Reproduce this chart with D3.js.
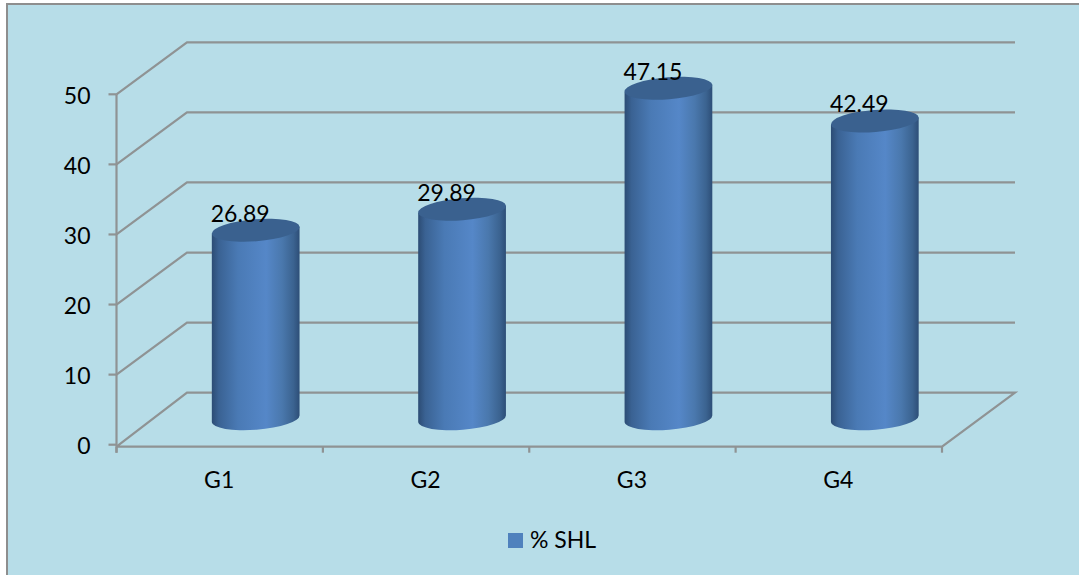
<!DOCTYPE html>
<html>
<head>
<meta charset="utf-8">
<script src="https://cdn.jsdelivr.net/npm/d3@7"></script>
<style>
  html, body { margin: 0; padding: 0; background: #fff; overflow: hidden; }
  svg { display: block; }
  text { font-family: Lato, "Open Sans", sans-serif; fill: #000; }
</style>
</head>
<body>
<svg id="chart" width="1079" height="575"></svg>
<script>
// Percentage of SHL per group
const categories = ["G1", "G2", "G3", "G4"];
const shlValues = [26.89, 29.89, 47.15, 42.49];
const valueLabels = ["26.89", "29.89", "47.15", "42.49"];
const yTickValues = [0, 10, 20, 30, 40, 50];
const seriesName = "% SHL";

const width = 1079, height = 575;
const gridColor = "#8f9394";
const depthX = 70.5, depthY = 52;   // oblique offset from the front plane to the back wall
const fontSize = 23;

const svg = d3.select("#chart");

const x = d3.scaleBand().domain(categories).range([116.5, 942]);
const y = d3.scaleLinear().domain([0, 50]).range([444.7, 94.3]);

const defs = svg.append("defs");
const sideGrad = defs.append("linearGradient").attr("id", "cylinderSide");
[[0, "#2c4c74"], [0.08, "#3a6293"], [0.3, "#4a7ab5"], [0.62, "#5587c8"], [0.8, "#4a78ad"], [0.93, "#3b6390"], [1, "#2d4e77"]]
  .forEach(([o, c]) => sideGrad.append("stop").attr("offset", o).attr("stop-color", c));

// Chart area
svg.append("rect").attr("x", 7).attr("y", 4)
  .attr("width", width).attr("height", height)
  .attr("fill", "#b7dde8").attr("stroke", "#8e8e8e").attr("stroke-width", 2);

const grid = svg.append("g").attr("fill", "none").attr("stroke", gridColor).attr("stroke-width", 2.2);

// Oblique gridlines: front axis, up the side wall, across the back wall
const xEnd = x.range()[1], xStart = x.range()[0];
grid.selectAll("path.gridline").data(yTickValues.filter(d => d > 0)).join("path")
  .attr("class", "gridline")
  .attr("d", d => d3.line()([[xStart, y(d)], [xStart + depthX, y(d) - depthY], [xEnd + 73, y(d) - depthY]]));

// Floor
const floorY = y(0) + 2;
grid.append("path").attr("d", d3.line()([
  [xStart, floorY], [xStart + depthX, y(0) - depthY], [xEnd + 73, y(0) - depthY], [xEnd, floorY], [xStart, floorY]
]));

// Value axis line and ticks
grid.append("path").attr("d", d3.line()([[xStart, y(50)], [xStart, floorY + 6]]));
grid.selectAll("line.ytick").data(yTickValues).join("line")
  .attr("class", "ytick")
  .attr("x1", xStart - 8).attr("x2", xStart)
  .attr("y1", d => y(d)).attr("y2", d => y(d));

// Category ticks at band edges
const bandEdges = categories.map(c => x(c)).concat([xEnd]);
grid.selectAll("line.xtick").data(bandEdges).join("line")
  .attr("class", "xtick")
  .attr("x1", d => d).attr("x2", d => d)
  .attr("y1", floorY).attr("y2", floorY + 6);

svg.append("g").selectAll("text").data(yTickValues).join("text")
  .attr("x", 90.5).attr("y", d => y(d) + 9.5)
  .attr("text-anchor", "end").attr("font-size", fontSize).text(d => d);

svg.append("g").selectAll("text").data(categories).join("text")
  .attr("x", d => x(d) + x.bandwidth() / 2 - 0.5).attr("y", 487.5)
  .attr("text-anchor", "middle").attr("font-size", fontSize).text(d => d);

// Cylinders sit halfway into the depth of the floor
const rx = 44, ry = 11, tilt = -4.5;
const tiltRad = tilt * Math.PI / 180;
const ex = rx * Math.cos(tiltRad), ey = rx * Math.sin(tiltRad);
const centerX = c => x(c) + x.bandwidth() / 2 + 36;
const baseY = y(0) - depthY / 2;
const valueHeight = v => y(0) - y(v);

const bars = svg.append("g").selectAll("g").data(categories.map((c, i) => ({ c, v: shlValues[i], label: valueLabels[i] }))).join("g");

bars.append("path")
  .attr("fill", "url(#cylinderSide)")
  .attr("d", d => {
    const cx = centerX(d.c), top = baseY - valueHeight(d.v);
    const p = d3.path();
    p.moveTo(cx - ex, top - ey);
    p.lineTo(cx - ex, baseY - ey);
    return p.toString() + `A${rx},${ry} ${tilt} 0 0 ${cx + ex},${baseY + ey}L${cx + ex},${top + ey}Z`;
  });

bars.append("ellipse")
  .attr("rx", rx).attr("ry", ry)
  .attr("transform", d => `translate(${centerX(d.c)},${baseY - valueHeight(d.v)}) rotate(${tilt})`)
  .attr("fill", "#3a618f");

bars.append("text")
  .attr("x", d => centerX(d.c) - 15.5)
  .attr("y", d => baseY - valueHeight(d.v) - 8.5)
  .attr("text-anchor", "middle").attr("font-size", fontSize).text(d => d.label);

// Legend
svg.append("rect").attr("x", 508).attr("y", 533).attr("width", 15).attr("height", 15).attr("fill", "#4f81bd");
svg.append("text").attr("x", 530).attr("y", 548).attr("font-size", fontSize).text(seriesName);
</script>
</body>
</html>
